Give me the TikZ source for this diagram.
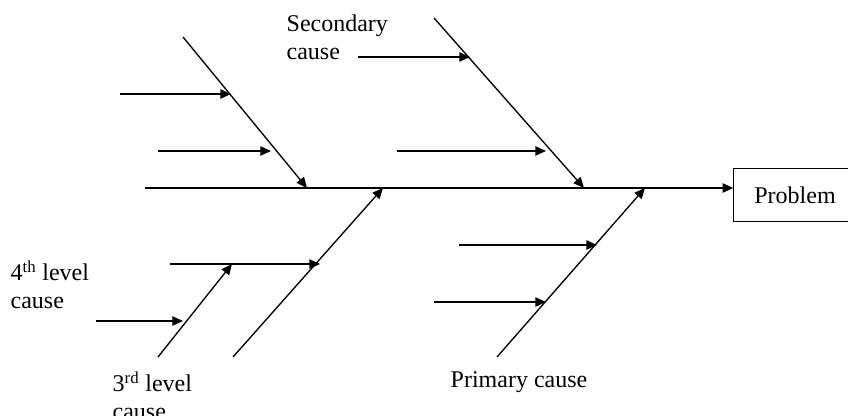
\documentclass[tikz,border=0pt]{standalone}
\usepackage{fontspec}
\setmainfont{Liberation Serif}
\usetikzlibrary{arrows.meta}

\begin{document}
\begin{tikzpicture}[x=0.75pt, y=-0.75pt, line width=1pt,
	>={Triangle[length=8pt,width=7pt]},
	lbl/.style={anchor=north west, inner sep=0pt, align=left, font=\fontsize{18}{21}\selectfont},
	probbox/.style={minimum width=91.5pt, minimum height=39pt, font=\fontsize{18}{21}\selectfont}]
	\useasboundingbox (0,0) rectangle (848,416);
	\node[probbox] (prob) at (795,195) {Problem};
	\draw[line width=0.75pt] (prob.north east) -- (prob.north west) -- (prob.south west) -- (prob.south east);
	\coordinate (tail) at (145,188);
	\draw[->] (tail) -- (tail -| prob.west);
	\coordinate (b1) at (183,37);
	\coordinate (j1) at (307,188);
	\coordinate (b2) at (434,18);
	\coordinate (j2) at (584,188);
	\coordinate (b3) at (233,357);
	\coordinate (j3) at (383,188);
	\coordinate (b4) at (497,357);
	\coordinate (j4) at (645,188);
	\coordinate (t3) at (158,357);
	\coordinate (k3) at (232,264);
	\draw[->] (b1) -- (j1);
	\draw[->] (b2) -- (j2);
	\draw[->] (b3) -- (j3);
	\draw[->] (b4) -- (j4);
	\draw[->] (t3) -- (k3);
	\coordinate (h1) at (120,94);
	\coordinate (e1) at (231,94);
	\coordinate (h2) at (158,151);
	\coordinate (e2) at (271,151);
	\coordinate (h3) at (358,57);
	\coordinate (e3) at (470,57);
	\coordinate (h4) at (397,151);
	\coordinate (e4) at (546,151);
	\coordinate (h5) at (170,264);
	\coordinate (e5) at (320,264);
	\coordinate (h6) at (459,245);
	\coordinate (e6) at (597,245);
	\coordinate (h7) at (434,302);
	\coordinate (e7) at (546,302);
	\coordinate (h8) at (96,321);
	\coordinate (e8) at (183,321);
	\draw[->] (h1) -- (e1);
	\draw[->] (h2) -- (e2);
	\draw[->] (h3) -- (e3);
	\draw[->] (h4) -- (e4);
	\draw[->] (h5) -- (e5);
	\draw[->] (h6) -- (e6);
	\draw[->] (h7) -- (e7);
	\draw[->] (h8) -- (e8);
	\node[lbl] (seclbl) at (286,14) {Secondary\\cause};
	\node[lbl] (fourlbl) at (10,260) {4\textsuperscript{th} level\\cause};
	\node[lbl] (thirdlbl) at (112,371) {3\textsuperscript{rd} level\\cause};
	\node[lbl] (primlbl) at (450,371) {Primary cause};
\end{tikzpicture}
\end{document}
